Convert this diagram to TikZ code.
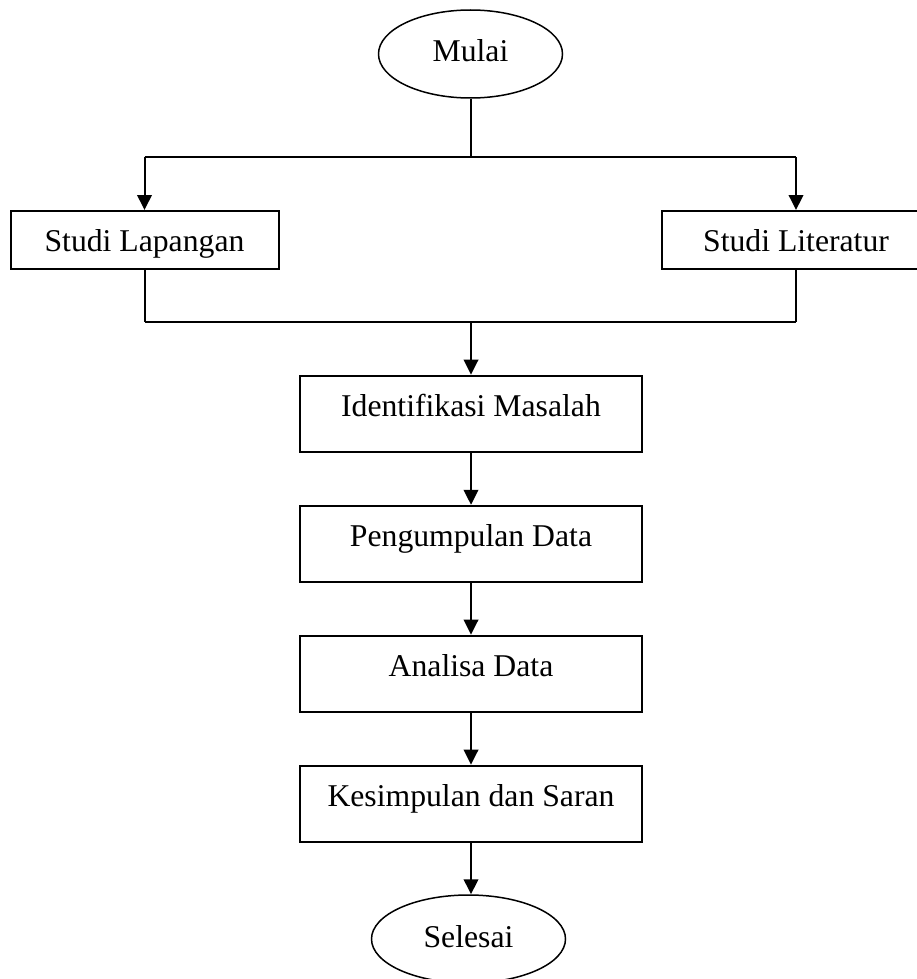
\documentclass[tikz,border=0pt]{standalone}
\usepackage{fontspec}
\setmainfont{Liberation Serif}
\usetikzlibrary{arrows.meta,shapes.geometric}
\begin{document}
\begin{tikzpicture}[x=1pt,y=-1pt,
  every node/.style={font=\fontsize{31.7}{38}\selectfont, inner sep=0pt},
  line/.style={line width=2pt},
  arr/.style={line width=2pt,-{Triangle[length=15pt,width=14.5pt]}},
  term/.style={ellipse, draw, line width=1.5pt, minimum width=184pt, minimum height=88pt, text height=22pt, text depth=6pt},
  sidebox/.style={rectangle, draw, line width=2pt, minimum width=268pt, minimum height=58pt, text height=24pt, text depth=1pt},
  flowbox/.style={rectangle, draw, line width=2pt, minimum width=342pt, minimum height=76pt, text height=24pt, text depth=19pt}]
\useasboundingbox (0,0) rectangle (917,979);
\clip (0,0) rectangle (917,979);
\node[term] (mulai) at (470.5,54) {Mulai};
\node[sidebox] (lap) at (144.5,240) {Studi Lapangan};
\node[sidebox] (lit) at (796,240) {Studi Literatur};
\node[flowbox] (iden) at (471,413.7) {Identifikasi Masalah};
\node[flowbox] (kump) at (471,543.8) {Pengumpulan Data};
\node[flowbox] (anal) at (471,673.7) {Analisa Data};
\node[flowbox] (kes) at (471,803.7) {Kesimpulan dan Saran};
\node[term, minimum width=194pt] (sel) at (468.5,939) {Selesai};
\coordinate (sL) at (144.5,157);
\coordinate (sR) at (796,157);
\coordinate (sM) at (mulai.south |- sL);
\coordinate (mL) at (144.5,321.7);
\coordinate (mR) at (796,321.7);
\coordinate (mM) at (471,321.7);
\draw[line] (mulai.south) -- (sM);
\draw[line] (sL) -- (sR);
\draw[arr] (sL) -- (lap.north);
\draw[arr] (sR) -- (lit.north);
\draw[line] (lap.south) -- (mL);
\draw[line] (lit.south) -- (mR);
\draw[line] (mL) -- (mR);
\draw[arr] (mM) -- (iden.north);
\draw[arr] (iden.south) -- (kump.north);
\draw[arr] (kump.south) -- (anal.north);
\draw[arr] (anal.south) -- (kes.north);
\draw[arr] (kes.south) -- (kes.south |- sel.north);
\end{tikzpicture}
\end{document}
